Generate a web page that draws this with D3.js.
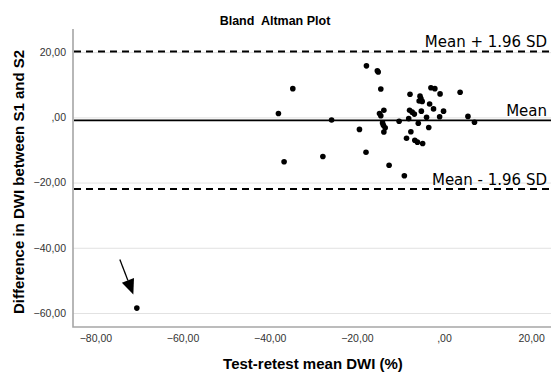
<!DOCTYPE html>
<html><head><meta charset="utf-8">
<script src="https://cdn.jsdelivr.net/npm/d3@7"></script>
<style>body{margin:0;background:#fff}svg{display:block}</style>
</head><body>
<svg id="chart" width="551" height="376"></svg>
<script>
// ---- data ----
const meanDWI = [-70.5, -38.0, -34.7, -36.7, -27.8, -25.8, -19.4, -17.9, -17.8, -15.3, -15.1, -14.5, -14.8, -14.5, -13.8, -14.1, -13.9, -13.5, -13.8, -12.6, -10.3, -9.1, -7.8, -5.5, -5.3, -5.7, -5.0, -3.0, -2.1, -0.9, 3.7, -3.3, -2.4, -0.1, -7.9, -7.3, -6.8, -5.2, -8.1, -5.9, -4.0, -3.5, -1.0, -7.6, -8.6, -6.7, -6.1, -4.9, 5.5, 7.0];
const diffDWI = [-58.5, 1.2, 8.8, -13.6, -12.0, -0.8, -3.7, -10.7, 15.8, 14.3, 13.9, 8.7, 1.2, 0.5, 2.2, -1.7, -2.4, -3.2, -4.5, -14.7, -1.2, -17.9, 7.1, 6.5, 5.8, 5.0, 4.9, 9.1, 8.8, 7.2, 7.7, 4.1, 2.6, 1.9, 2.2, 1.6, 1.0, 1.9, -0.4, -1.8, 0.0, -3.1, 0.2, -4.4, -6.4, -7.0, -7.6, -8.0, 0.3, -1.5];
const xTicks = [-80, -60, -40, -20, 0, 20];
const yTicks = [20, 0, -20, -40, -60];
const meanDiff = -0.9;
const upperLoA = 20.2;
const lowerLoA = -22.0;
const refLines = [upperLoA, meanDiff, lowerLoA];
const refLabels = ["Mean + 1.96 SD", "Mean", "Mean - 1.96 SD"];
const arrowFrom = [-74.4, -43.6];
const arrowTo = [-71.3, -54.3];
const titleText = "Bland  Altman Plot";
const xTitle = "Test-retest mean DWI (%)";
const yTitle = "Difference in DWI between S1 and S2";

// ---- layout ----
const W = 551, H = 376;
const plot = {left: 73, right: 551, top: 29, bottom: 327};
const x = d3.scaleLinear().domain([-85.15, 24.56]).range([plot.left, plot.right]);
const y = d3.scaleLinear().domain([-64.3, 27.1]).range([plot.bottom, plot.top]);
const fmt = v => {
  let s = d3.format(".2f")(v).replace(".", ",");
  if (s === "0,00") s = ",00";
  return s;
};

const svg = d3.select("#chart");
svg.append("rect").attr("width", W).attr("height", H).attr("fill", "#fff");

// gridlines (via y axis)
const grid = svg.append("g").attr("transform", `translate(${plot.left},0)`)
  .call(d3.axisLeft(y).tickValues(yTicks).tickSize(-(plot.right - plot.left)).tickFormat(""));
grid.select(".domain").remove();
grid.selectAll(".tick line").attr("stroke", "#e2e2e2").attr("stroke-width", 1);

// y axis
const yAx = svg.append("g").attr("transform", `translate(${plot.left},0)`)
  .call(d3.axisLeft(y).tickValues(yTicks).tickSize(0).tickPadding(7).tickFormat(fmt));
yAx.select(".domain").remove();
yAx.selectAll("text").attr("font-family", "Liberation Sans, Arial, sans-serif").attr("font-size", 10.5).attr("fill", "#333");

// x axis
const xAx = svg.append("g").attr("transform", `translate(0,${plot.bottom})`)
  .call(d3.axisBottom(x).tickValues(xTicks).tickSize(0).tickPadding(8).tickFormat(fmt));
xAx.select(".domain").remove();
xAx.selectAll("text").attr("font-family", "Liberation Sans, Arial, sans-serif").attr("font-size", 10.5).attr("fill", "#333");

// axis lines
svg.append("path")
  .attr("d", `M${plot.left},${plot.top}V${plot.bottom}H${plot.right}`)
  .attr("fill", "none").attr("stroke", "#a6a6a6").attr("stroke-width", 1.6);

// reference lines
svg.selectAll(".ref").data(refLines).join("line")
  .attr("x1", plot.left + 1).attr("x2", plot.right)
  .attr("y1", d => y(d)).attr("y2", d => y(d))
  .attr("stroke", "#000")
  .attr("stroke-width", (d, i) => i === 1 ? 1.8 : 2)
  .attr("stroke-dasharray", (d, i) => i === 1 ? null : "7,5");

svg.selectAll(".reflab").data(refLines).join("text")
  .attr("x", 547).attr("y", d => y(d) - 4.5)
  .attr("text-anchor", "end")
  .attr("font-family", "DejaVu Sans, Verdana, sans-serif").attr("font-size", 15)
  .attr("fill", "#000")
  .text((d, i) => refLabels[i]);

// points
svg.append("g").selectAll("circle").data(meanDWI).join("circle")
  .attr("cx", d => x(d)).attr("cy", (d, i) => y(diffDWI[i]))
  .attr("r", 2.8).attr("fill", "#000");

// arrow annotation
const ax0 = x(arrowFrom[0]), ay0 = y(arrowFrom[1]);
const ax1 = x(arrowTo[0]), ay1 = y(arrowTo[1]);
const dx = ax1 - ax0, dy = ay1 - ay0, len = Math.hypot(dx, dy);
const ux = dx / len, uy = dy / len;
const hl = 15, hw = 6.5;
const bx = ax1 - ux * hl, by = ay1 - uy * hl;
svg.append("line").attr("x1", ax0).attr("y1", ay0).attr("x2", bx).attr("y2", by)
  .attr("stroke", "#000").attr("stroke-width", 1.3);
svg.append("path")
  .attr("d", `M${ax1},${ay1}L${bx - uy * hw},${by + ux * hw}L${bx + uy * hw},${by - ux * hw}Z`)
  .attr("fill", "#000");

// titles
svg.append("text").attr("x", 275).attr("y", 25).attr("text-anchor", "middle")
  .style("white-space", "pre")
  .attr("font-family", "Liberation Sans, Arial, sans-serif").attr("font-weight", "bold")
  .attr("font-size", 12.5).attr("fill", "#000").text(titleText);
svg.append("text").attr("x", 313).attr("y", 369).attr("text-anchor", "middle")
  .attr("font-family", "Liberation Sans, Arial, sans-serif").attr("font-weight", "bold")
  .attr("font-size", 15).attr("fill", "#000").text(xTitle);
svg.append("text").attr("transform", "translate(24,182) rotate(-90)").attr("text-anchor", "middle")
  .attr("font-family", "Liberation Sans, Arial, sans-serif").attr("font-weight", "bold")
  .attr("font-size", 15).attr("fill", "#000").text(yTitle);
</script>
</body></html>
